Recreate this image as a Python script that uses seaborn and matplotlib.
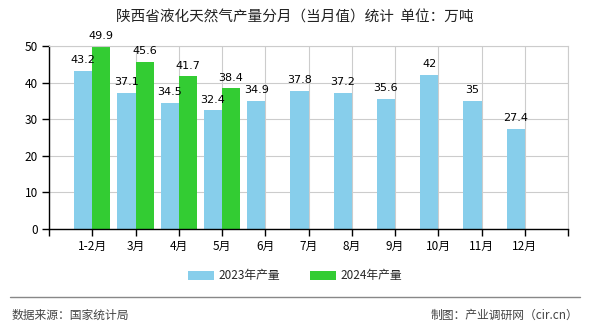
import numpy as np
import pandas as pd
import matplotlib
matplotlib.use("Agg")
import matplotlib.pyplot as plt
from matplotlib.lines import Line2D
from matplotlib.patches import Patch
import seaborn as sns

months = ["1-2月", "3月", "4月", "5月", "6月", "7月", "8月", "9月", "10月", "11月", "12月"]
prod_2023 = [43.2, 37.1, 34.5, 32.4, 34.9, 37.8, 37.2, 35.6, 42, 35, 27.4]
prod_2024 = [49.9, 45.6, 41.7, 38.4, np.nan, np.nan, np.nan, np.nan, np.nan, np.nan, np.nan]
series = ["2023年产量", "2024年产量"]
colors = ["#87CEEB", "#33CC33"]
yticks = [0, 10, 20, 30, 40, 50]

sns.set_theme(style="white")
plt.rcParams['font.family'] = ['Noto Sans CJK SC', 'DejaVu Sans']

df = pd.DataFrame({
    "month": months * 2,
    "value": prod_2023 + prod_2024,
    "series": [series[0]] * len(months) + [series[1]] * len(months),
})

fig = plt.figure(figsize=(5.9, 3.3), dpi=100)
fig.patch.set_facecolor("white")
ax = fig.add_axes([49/590, 1-229/330, (568-49)/590, (229-46)/330])

sns.barplot(data=df, x="month", y="value", hue="series", order=months,
            hue_order=series, palette=colors, width=0.84, dodge=True,
            saturation=1, ax=ax, legend=False, errorbar=None,
            edgecolor="none", linewidth=0)

ax.set_xlim(-1, len(months))
ax.set_ylim(0, 50)
ax.set_yticks(yticks)
ax.set_yticklabels([str(t) for t in yticks], fontsize=8.5)
xt = list(range(-1, len(months) + 1))
ax.set_xticks(xt)
ax.set_xticklabels([""] + months + [""], fontsize=8.5)
ax.set_xlabel("")
ax.set_ylabel("")
ax.grid(True, color="#cccccc", linewidth=0.8)
ax.set_axisbelow(True)
for s in ["top", "right"]:
    ax.spines[s].set_visible(True)
    ax.spines[s].set_color("#cccccc")
    ax.spines[s].set_linewidth(0.8)
ax.spines["left"].set_color("black")
ax.spines["bottom"].set_color("black")
ax.spines["left"].set_linewidth(1)
ax.spines["bottom"].set_linewidth(1)
ax.tick_params(axis="both", which="both", direction="out", length=5, width=1,
               color="black", labelcolor="black", pad=3, left=True, bottom=True)

for p in ax.patches:
    h = p.get_height()
    if h is None or np.isnan(h) or p.get_width() == 0:
        continue
    ax.text(p.get_x() + p.get_width() / 2, h + 1.6, f"{h:g}", ha="center",
            va="bottom", fontsize=8, family=["DejaVu Sans"], color="black",
            clip_on=False)

fig.suptitle("陕西省液化天然气产量分月（当月值）统计  单位：万吨", x=0.5, y=1-18/330,
             va="center", fontsize=10.5, color="#222222")

handles = [Patch(facecolor=c, edgecolor="none") for c in colors]
fig.legend(handles, series, loc="center", bbox_to_anchor=(0.5, 1-276/330), ncol=2,
           frameon=False, fontsize=8.5, handlelength=2.2, handleheight=0.8,
           columnspacing=2.5, handletextpad=0.4)

fig.add_artist(Line2D([10/590, 580/590], [1-297/330, 1-297/330], color="#888888", linewidth=1))
fig.text(12/590, 1-315/330, "数据来源：国家统计局", fontsize=8.5, color="#444444", va="center", ha="left")
fig.text(578/590, 1-315/330, "制图：产业调研网（cir.cn）", fontsize=8.5, color="#444444", va="center", ha="right")

fig.savefig("out.png", dpi=100, facecolor="white")
